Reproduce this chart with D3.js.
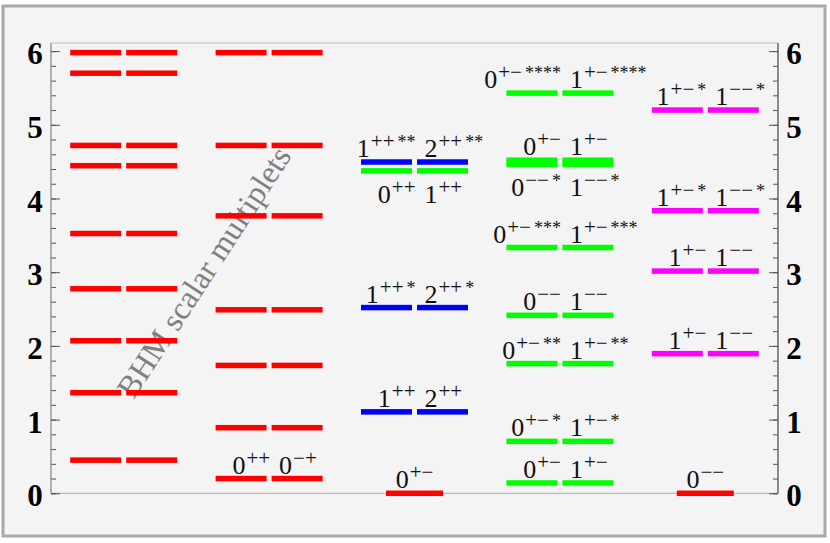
<!DOCTYPE html>
<html>
<head>
<meta charset="utf-8">
<script src="https://cdn.jsdelivr.net/npm/d3@7"></script>
<style>
body{margin:0;background:#fff;}
svg{display:block;}
</style>
</head>
<body>
<script>
(function(){

//level values, one array per column / colour
var col1Red = [0.45, 1.365, 2.07, 2.775, 3.525, 4.445, 4.72, 5.70, 5.98];
var col2Red = [0.20, 0.89, 1.735, 2.49, 3.765, 4.72, 5.98];
var col3Blue = [1.105, 2.52, 4.495];
var col3Green = [4.375];
var col4Green = [0.14, 0.705, 1.76, 2.415, 3.335, 4.465, 4.52, 5.43];
var col5Magenta = [1.895, 3.015, 3.835, 5.20];
var singleCols = [2, 4];
var singleLevels = [0, 0];

//pair labels: column, level, above/below, left digit, left sup, right digit, right sup
var pairLabels = [
	[1, 0.20, "above", "0", "++", "0", "\u2212+"],
	[2, 1.105, "above", "1", "++", "2", "++"],
	[2, 2.52, "above", "1", "++*", "2", "++*"],
	[2, 4.495, "above", "1", "++**", "2", "++**"],
	[2, 4.375, "below", "0", "++", "1", "++"],
	[3, 0.14, "above", "0", "+\u2212", "1", "+\u2212"],
	[3, 0.705, "above", "0", "+\u2212*", "1", "+\u2212*"],
	[3, 1.76, "above", "0", "+\u2212**", "1", "+\u2212**"],
	[3, 2.415, "above", "0", "\u2212\u2212", "1", "\u2212\u2212"],
	[3, 3.335, "above", "0", "+\u2212***", "1", "+\u2212***"],
	[3, 4.52, "above", "0", "+\u2212", "1", "+\u2212"],
	[3, 4.465, "below", "0", "\u2212\u2212*", "1", "\u2212\u2212*"],
	[3, 5.43, "above", "0", "+\u2212****", "1", "+\u2212****"],
	[4, 1.895, "above", "1", "+\u2212", "1", "\u2212\u2212"],
	[4, 3.015, "above", "1", "+\u2212", "1", "\u2212\u2212"],
	[4, 3.835, "above", "1", "+\u2212*", "1", "\u2212\u2212*"],
	[4, 5.20, "above", "1", "+\u2212*", "1", "\u2212\u2212*"]
];
var singleLabels = [["0", "+\u2212"], ["0", "\u2212\u2212"]];

var yTickLabels = [0, 1, 2, 3, 4, 5, 6];
var watermark = "BHM scalar multiplets";

var width = 830, height = 543;
var serif = "'Liberation Serif', 'Times New Roman', 'DejaVu Serif', serif";

var svg = d3.select("body").append("svg")
	.attr("width", width)
	.attr("height", height);

//outer frame
svg.append("rect")
	.attr("x", 3).attr("y", 6)
	.attr("width", 822).attr("height", 530)
	.attr("fill", "#f4f4f4")
	.attr("stroke", "#aaaaaa")
	.attr("stroke-width", 3);

var plotLeft = 51, plotRight = 778, plotTop = 43, plotBottom = 493.3;

var x = d3.scaleBand()
	.domain([0, 1, 2, 3, 4])
	.range([plotLeft, plotRight]);

var y = d3.scaleLinear()
	.domain([0, 6.11])
	.range([plotBottom, plotTop]);

function center(c){ return x(c) + x.bandwidth() / 2; }

//frame lines
svg.append("line").attr("x1", plotLeft).attr("x2", plotRight)
	.attr("y1", plotTop).attr("y2", plotTop)
	.attr("stroke", "#bbbbbb").attr("stroke-width", 1);
svg.append("line").attr("x1", plotLeft).attr("x2", plotRight)
	.attr("y1", plotBottom).attr("y2", plotBottom)
	.attr("stroke", "#aaaaaa").attr("stroke-width", 1);

//axes with inward ticks
var minorTicks = d3.range(0, 30.5, 1).map(function(d){ return d / 5; });

var leftAxis = d3.axisRight(y).tickValues(minorTicks)
	.tickSize(5).tickFormat("");
var leftMajor = d3.axisRight(y).tickValues(yTickLabels)
	.tickSize(9).tickFormat("");
var rightAxis = d3.axisLeft(y).tickValues(minorTicks)
	.tickSize(5).tickFormat("");
var rightMajor = d3.axisLeft(y).tickValues(yTickLabels)
	.tickSize(9).tickFormat("");

[[leftAxis, plotLeft, "#999999"], [leftMajor, plotLeft, "#999999"],
 [rightAxis, plotRight, "#666666"], [rightMajor, plotRight, "#666666"]].forEach(function(a){
	var g = svg.append("g")
		.attr("transform", "translate(" + a[1] + ",0)")
		.call(a[0]);
	g.select(".domain").attr("stroke", a[2]).attr("d", "M0," + plotTop + "V" + plotBottom);
	g.selectAll(".tick line").attr("stroke", "#555555");
});

//tick labels
[[plotLeft - 16, "middle"], [plotRight + 16, "middle"]].forEach(function(s){
	svg.selectAll(null)
		.data(yTickLabels)
		.enter()
		.append("text")
		.attr("x", s[0])
		.attr("y", function(d){ return y(d) + 13; })
		.attr("text-anchor", s[1])
		.attr("font-family", serif)
		.attr("font-weight", "bold")
		.attr("font-size", 31)
		.attr("fill", "#000")
		.text(function(d){ return d; });
});

//watermark
var wm = [213, 278];
svg.append("text")
	.attr("transform", "translate(" + wm[0] + "," + wm[1] + ") rotate(-57)")
	.attr("text-anchor", "middle")
	.attr("font-family", serif)
	.attr("font-size", 32)
	.attr("fill", "#808080")
	.text(watermark);

//bars
var barW = 51, gap = 5, barH = 5.5, singleW = 57;
var pairSeries = [
	[0, col1Red, "#ff0000"],
	[1, col2Red, "#ff0000"],
	[2, col3Green, "#00ff00"],
	[2, col3Blue, "#0000ff"],
	[3, col4Green, "#00ff00"],
	[4, col5Magenta, "#ff00ff"]
];

pairSeries.forEach(function(s){
	var c = center(s[0]);
	[c - gap / 2 - barW, c + gap / 2].forEach(function(bx){
		svg.selectAll(null)
			.data(s[1])
			.enter()
			.append("rect")
			.attr("x", bx)
			.attr("y", function(d){ return y(d) - barH / 2; })
			.attr("width", barW)
			.attr("height", barH)
			.attr("fill", s[2]);
	});
});

svg.selectAll(null)
	.data(singleLevels)
	.enter()
	.append("rect")
	.attr("x", function(d, i){ return center(singleCols[i]) - singleW / 2; })
	.attr("y", function(d){ return y(d) - barH / 2; })
	.attr("width", singleW)
	.attr("height", barH)
	.attr("fill", "#ff0000");

//state labels with superscripts
function drawLabel(lx, ly, anchor, base, sup){
	var t = svg.append("text")
		.attr("x", lx)
		.attr("y", ly)
		.attr("text-anchor", anchor)
		.attr("font-family", serif)
		.attr("font-size", 26)
		.attr("fill", "#111");
	t.append("tspan").text(base);
	var m = sup.match(/^([^*]*)(\**)$/);
	t.append("tspan").attr("font-size", 21).attr("dx", 1).attr("dy", -9).text(m[1]);
	if (m[2]) t.append("tspan").attr("font-size", 18).attr("dx", 3).text(m[2]);
}

pairLabels.forEach(function(l){
	var c = center(l[0]);
	var ly = l[2] == "above" ? y(l[1]) - 5 : y(l[1]) + 32;
	drawLabel(c + 1, ly, "end", l[3], l[4]);
	drawLabel(c + 10, ly, "start", l[5], l[6]);
});

singleLabels.forEach(function(l, i){
	drawLabel(center(singleCols[i]), y(singleLevels[i]) - 5, "middle", l[0], l[1]);
});

})();
</script>
</body>
</html>
